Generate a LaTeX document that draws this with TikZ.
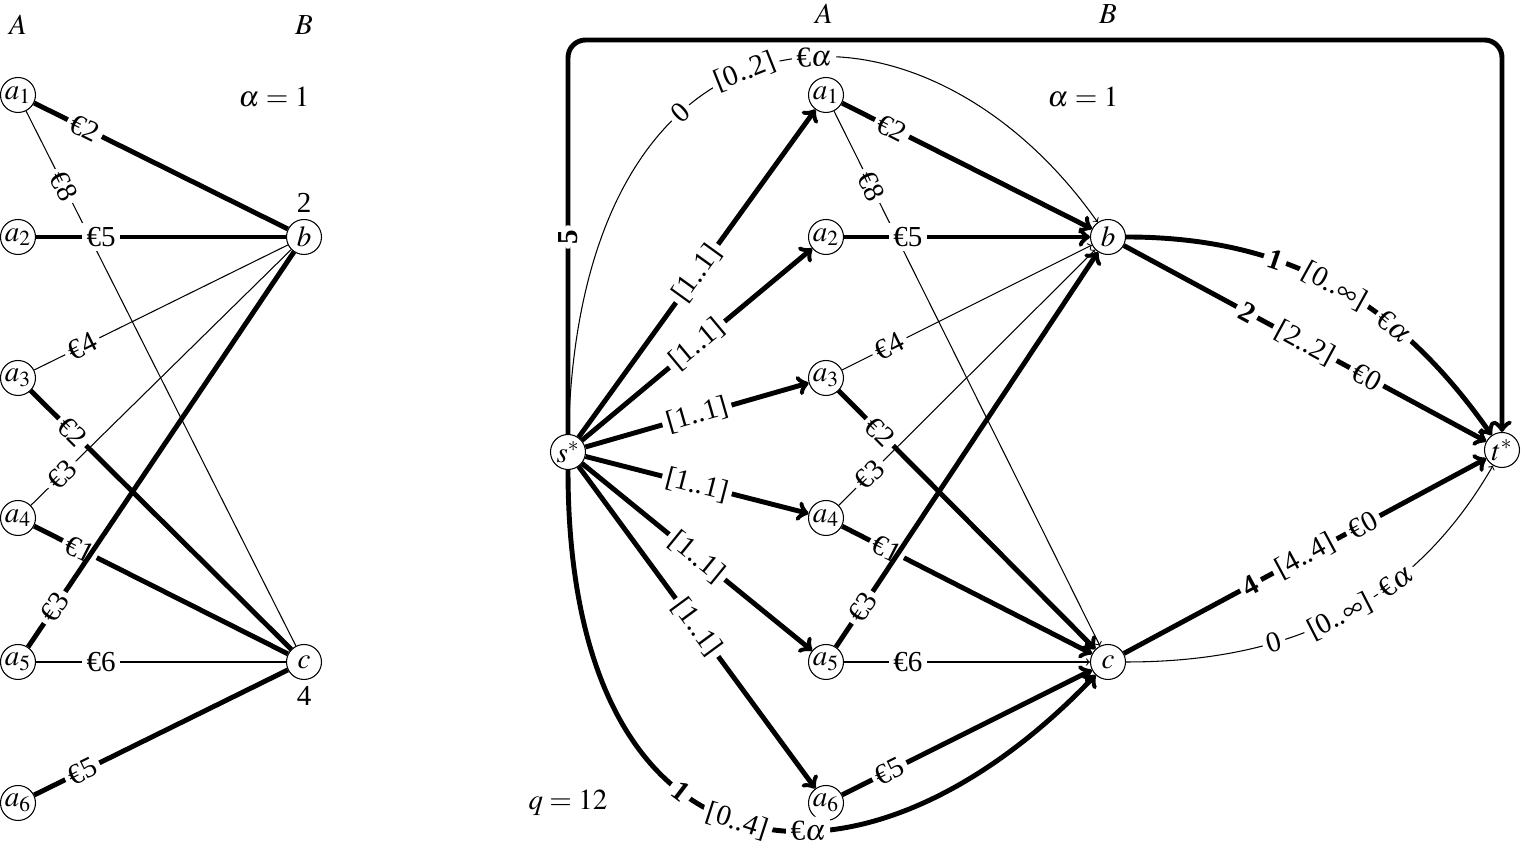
\documentclass[tikz,border=0pt]{standalone}
\usepackage{mathptmx}
\usepackage{fontspec}
\setmainfont{Liberation Serif}
\usetikzlibrary{arrows,positioning}

\begin{document}
\begin{tikzpicture}[
  every node/.style={font=\fontsize{16.5}{19}\selectfont},
  vertex/.style={circle, draw=black, fill=white, line width=0.6pt, minimum size=0.7cm, inner sep=0pt},
  heavy/.style={line width=2.8pt},
  light/.style={line width=0.6pt},
  arrow/.style={->},
  lab/.style={fill=white, inner sep=2.5pt, sloped}
]
\useasboundingbox (0,0) rectangle (30.5,16.98);

% Left graph
\node[vertex] (la1) at (0.36,15.08) {$a_1$};
\node[vertex] (la2) at (0.36,12.24) {$a_2$};
\node[vertex] (la3) at (0.36,9.42) {$a_3$};
\node[vertex] (la4) at (0.36,6.62) {$a_4$};
\node[vertex] (la5) at (0.36,3.74) {$a_5$};
\node[vertex] (la6) at (0.36,0.92) {$a_6$};
\node[vertex, label={above:2}] (lb) at (6.08,12.24) {$b$};
\node[vertex, label={below:4}] (lc) at (6.08,3.74) {$c$};

\node (lA) at (0.36,16.48) {$A$};
\node (lB) at (6.08,16.48) {$B$};
\node (lalpha) at (5.48,15.04) {$\alpha = 1$};

% Left edges
\draw[light] (la1) -- node[lab, pos=0.14] {€8} (lc);
\draw[light] (la3) -- node[lab, pos=0.19] {€4} (lb);
\draw[light] (la4) -- node[lab, pos=0.12] {€3} (lb);
\draw[light] (la5) -- node[lab, pos=0.26] {€6} (lc);
\draw[heavy] (la1) -- node[lab, pos=0.2] {€2} (lb);
\draw[heavy] (la2) -- node[lab, pos=0.26] {€5} (lb);
\draw[heavy] (la3) -- node[lab, pos=0.16] {€2} (lc);
\draw[heavy] (la4) -- node[lab, pos=0.18] {€1} (lc);
\draw[heavy] (la5) -- node[lab, pos=0.1] {€3} (lb);
\draw[heavy] (la6) -- node[lab, pos=0.19] {€5} (lc);

% Right graph
\node[vertex] (s) at (11.36,7.94) {$s^*$};
\node[vertex] (a1) at (16.52,15.08) {$a_1$};
\node[vertex] (a2) at (16.52,12.24) {$a_2$};
\node[vertex] (a3) at (16.52,9.42) {$a_3$};
\node[vertex] (a4) at (16.52,6.62) {$a_4$};
\node[vertex] (a5) at (16.52,3.74) {$a_5$};
\node[vertex] (a6) at (16.52,0.92) {$a_6$};
\node[vertex] (b) at (22.16,12.24) {$b$};
\node[vertex] (c) at (22.16,3.74) {$c$};
\node[vertex] (t) at (30.04,7.98) {$t^*$};
\coordinate (top) at (0,16.18);

\node (rA) at (16.48,16.7) {$A$};
\node (rB) at (22.16,16.7) {$B$};
\node (ralpha) at (21.66,15.04) {$\alpha = 1$};
\node (q) at (11.36,0.92) {$q = 12$};

% Thin edges
\draw[light, arrow] (a1) -- node[lab, pos=0.14] {€8} (c);
\draw[light, arrow] (a3) -- node[lab, pos=0.19] {€4} (b);
\draw[light, arrow] (a4) -- node[lab, pos=0.12] {€3} (b);
\draw[light, arrow] (a5) -- node[lab, pos=0.26] {€6} (c);
\draw[light, arrow] (s) .. controls +(0.24,9.44) and +(-3.76,5.34) ..
  node[lab, pos=0.35] {0} node[lab, pos=0.46] {[0..2]} node[lab, pos=0.565] {€$\alpha$} (b);
\draw[light, arrow] (c) to[out=0, in=-120]
  node[lab, pos=0.33] {0} node[lab, pos=0.5] {[0..$\infty$]} node[lab, pos=0.66] {€$\alpha$} (t);

% Source edges
\draw[heavy, arrow] (s) -- node[lab] {[1..1]} (a1);
\draw[heavy, arrow] (s) -- node[lab] {[1..1]} (a2);
\draw[heavy, arrow] (s) -- node[lab] {[1..1]} (a3);
\draw[heavy, arrow] (s) -- node[lab] {[1..1]} (a4);
\draw[heavy, arrow] (s) -- node[lab] {[1..1]} (a5);
\draw[heavy, arrow] (s) -- node[lab] {[1..1]} (a6);

% Heavy middle edges
\draw[heavy, arrow] (a1) -- node[lab, pos=0.2] {€2} (b);
\draw[heavy, arrow] (a2) -- node[lab, pos=0.26] {€5} (b);
\draw[heavy, arrow] (a3) -- node[lab, pos=0.16] {€2} (c);
\draw[heavy, arrow] (a4) -- node[lab, pos=0.18] {€1} (c);
\draw[heavy, arrow] (a5) -- node[lab, pos=0.1] {€3} (b);
\draw[heavy, arrow] (a6) -- node[lab, pos=0.19] {€5} (c);

% Sink edges
\draw[heavy, arrow] (b) to[out=0, in=125]
  node[lab, pos=0.34] {\textbf{1}} node[lab, pos=0.5] {[0..$\infty$]} node[lab, pos=0.675] {€$\alpha$} (t);
\draw[heavy, arrow] (b) --
  node[lab, pos=0.34] {\textbf{2}} node[lab, pos=0.5] {[2..2]} node[lab, pos=0.67] {€0} (t);
\draw[heavy, arrow] (c) --
  node[lab, pos=0.35] {\textbf{4}} node[lab, pos=0.5] {[4..4]} node[lab, pos=0.66] {€0} (t);
\draw[heavy, arrow] (s) .. controls +(0,-8.8) and +(-4.96,-5.2) ..
  node[lab, pos=0.39] {\textbf{1}} node[lab, pos=0.49] {[0..4]} node[lab, pos=0.6] {€$\alpha$} (c);
\draw[heavy, arrow, rounded corners=10pt] (s) -- node[lab] {\textbf{5}} (s |- top) -- (t |- top) -- (t);

\end{tikzpicture}
\end{document}
